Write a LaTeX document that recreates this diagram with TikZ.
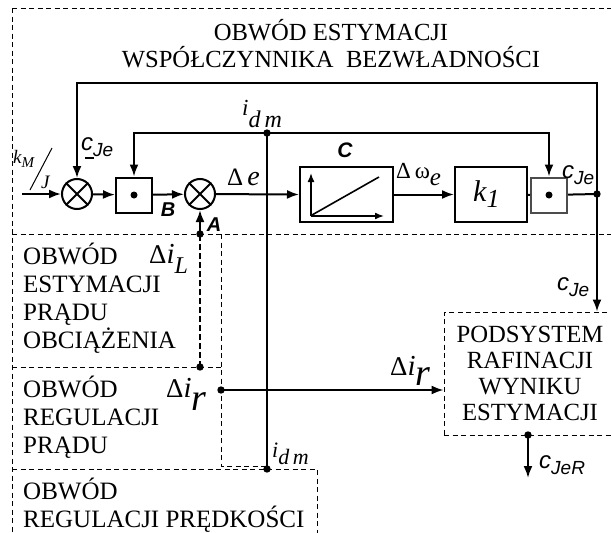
\documentclass[tikz,border=0pt]{standalone}
\usepackage{fontspec}
\setmainfont{Liberation Serif}
\newfontfamily\sansf{Liberation Sans}
\usetikzlibrary{arrows.meta,calc}
\newcommand{\myfs}[2][]{\fontsize{#2}{#2}\selectfont}
\newcommand{\cje}[1]{{\sansf\itshape\myfs{24}c\raisebox{-6pt}{\myfs{19}#1}}}
\begin{document}
\begin{tikzpicture}[x=1pt,y=-1pt,
  ln/.style={line width=2pt},
  arr/.style={ln,-{Latex[length=12pt,width=9pt]}},
  dsh/.style={line width=0.9pt,dash pattern=on 5pt off 3.5pt},
  mult/.style={circle,draw,line width=2pt,minimum size=30pt,inner sep=0pt},
  blk/.style={draw,line width=2pt,inner sep=0pt},
  dotbox/.style={draw,line width=2pt,minimum width=36pt,minimum height=35pt,inner sep=0pt},
  txt/.style={font=\fontsize{25}{27.7}\selectfont,align=left,inner sep=0pt},
  lbl/.style={inner sep=0pt},
  bsf/.style={inner sep=0pt,font=\sansf\bfseries\itshape\fontsize{20}{20}\selectfont}]
\useasboundingbox (0,0) rectangle (611,533);
\begin{scope}
\clip (0,0) rectangle (611,533);
% dashed regions
\draw[dsh] (12,8) -- (620,8);
\draw[dsh] (12,8) -- (12,540);
\draw[dsh] (12,234) -- (620,234);
\draw[dsh] (221,234) -- (221,466) -- (267,466);
\draw[dsh] (12,367) -- (221,367);
\draw[dsh] (12,469) -- (317,469) -- (317,540);
% titles
\node[lbl,anchor=base,font=\fontsize{24.6}{24.6}\selectfont] (t1) at (331,40) {OBWÓD ESTYMACJI};
\node[lbl,anchor=base,font=\fontsize{24.6}{24.6}\selectfont] (t2) at (331,67) {WSPÓŁCZYNNIKA\ \ BEZWŁADNOŚCI};
\node[txt,anchor=base west] (t3) at (23,348) {OBWÓD\\ESTYMACJI\\PRĄDU\\OBCIĄŻENIA};
\node[txt,anchor=base west] (t4) at (23,453) {OBWÓD\\REGULACJI\\PRĄDU};
\node[txt,anchor=base west] (t5) at (23,527) {OBWÓD\\REGULACJI PRĘDKOŚCI};
% blocks
\node[mult] (m1) at (77,194) {};
\draw[ln] (m1.45) -- (m1.225) (m1.135) -- (m1.315);
\node[dotbox] (b1) at (134,195) {};
\fill (b1.center) circle (3.5pt);
\node[mult] (m2) at (200,194) {};
\draw[ln] (m2.45) -- (m2.225) (m2.135) -- (m2.315);
\node[blk,minimum width=93pt,minimum height=55pt] (C) at (346.5,194.5) {};
\draw[line width=1.6pt,-{Latex[length=9pt,width=7pt]}] ($(C.south west)+(12,-7)$) -- ($(C.south west)+(12,-50)$);
\draw[line width=1.6pt,-{Latex[length=9pt,width=7pt]}] ($(C.south west)+(12,-7)$) -- ($(C.south west)+(85,-7)$);
\draw[line width=1.6pt] ($(C.south west)+(13,-8)$) -- ($(C.south west)+(80,-46)$);
\node[blk,minimum width=72pt,minimum height=55pt] (k1) at (491,194.5) {};
\node[lbl,anchor=base west] (k1t) at (473,201) {\itshape\myfs{30}k\raisebox{-6pt}{\myfs{26}1}};
\node[dotbox,draw=black!70] (b2) at (549,195) {};
\fill (b2.center) circle (3.5pt);
\node[draw,dsh,minimum width=190pt,minimum height=123pt,inner sep=0pt] (pod) at (539,373.5) {};
\node[lbl,anchor=base,align=center,font=\fontsize{24.7}{26}\selectfont] (podt) at (530,420) {PODSYSTEM\\RAFINACJI\\WYNIKU\\ESTYMACJI};
% coordinates
\coordinate (in) at (22,194);
\coordinate (jr) at (597,194);
\coordinate (ft) at (597,83);
\coordinate (jt) at (267,133);
\coordinate (jb) at (267,469);
\coordinate (da) at (200,234);
\coordinate (dl) at (200,367);
\coordinate (dr) at (221,390);
\coordinate (po) at (528,435);
\coordinate (pe) at (528,478);
% connectors
\draw[arr] (in) -- (m1.west);
\draw[arr] (m1) -- (b1);
\draw[arr] (b1) -- (m2);
\draw[arr] (m2) -- (C.west);
\draw[arr] (C) -- (k1);
\draw[ln] (k1) -- (b2);
\draw[ln] (b2) -- (jr);
\draw[arr] (jr) -- (ft) -| (m1.north);
\draw[ln] (jt) -- (jb);
\draw[arr] (jt) -| (b1.north);
\draw[arr] (jt) -| (b2.north);
\draw[line width=2pt,dash pattern=on 6pt off 3pt] (dl) -- (da);
\draw[arr] (da) -- (m2.south);
\draw[arr] (dr) -- (dr -| pod.west);
\draw[arr] (jr) -- (jr |- pod.north);
\draw[arr] (po) -- (pe);
\foreach \p in {jr,jt,jb,da,dl,dr,po} \fill (\p) circle (3.7pt);
% labels
\node[lbl,anchor=base west] (lk) at (13,163) {\itshape\myfs{19}k\raisebox{-4pt}{\myfs{15}M}};
\node[lbl,anchor=base west] (lj) at (41,188) {\itshape\myfs{19}J};
\draw[line width=1pt] (30,190) -- (52,148);
\node[lbl,anchor=base west] (lc1) at (81,150) {\cje{Je}};
\draw[line width=1.5pt] (85,158) -- (94,158);
\node[lbl,anchor=base west] (lc2) at (562,178) {\cje{Je}};
\node[lbl,anchor=base west] (lc3) at (557,290) {\cje{Je}};
\node[lbl,anchor=base west] (lc4) at (539,468) {\cje{JeR}};
\node[bsf] (lB) at (168,210) {B};
\node[bsf] (lA) at (214,225) {A};
\node[bsf,font=\sansf\bfseries\itshape\fontsize{21}{21}\selectfont] (lC) at (345,150) {C};
\node[lbl,anchor=base west] (lde) at (227,185) {\myfs{25}Δ\,\textit{\myfs{28}e}};
\node[lbl,anchor=base west] (ldw) at (396,178) {\myfs{23}Δ\,ω\raisebox{-7pt}{\myfs{25}\itshape e}};
\node[lbl,anchor=base west] (lidm1) at (242,115) {\itshape\myfs{23}i\raisebox{-12pt}{\myfs{24}d\,m}};
\node[lbl,anchor=base west] (lidm2) at (272,457) {\itshape\myfs{22}i\raisebox{-7pt}{\myfs{22}d\,m}};
\node[lbl,anchor=base west] (ldl) at (149,263) {\myfs{27}Δ\textit{\myfs{29}i}\raisebox{-10pt}{\myfs{24}\itshape L}};
\node[lbl,anchor=base west] (ldr1) at (166,397) {\myfs{27}Δ\textit{\myfs{29}i}\raisebox{-13pt}{\myfs{38}\itshape r}};
\node[lbl,anchor=base west] (ldr2) at (390,375) {\myfs{27}Δ\textit{\myfs{29}i}\raisebox{-10pt}{\myfs{38}\itshape r}};
\end{scope}
\end{tikzpicture}
\end{document}
